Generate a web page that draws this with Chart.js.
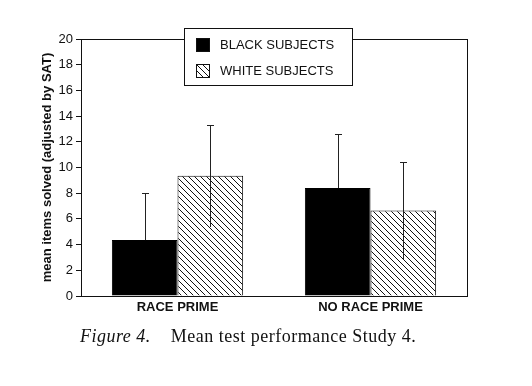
<!DOCTYPE html>
<html>
<head>
<meta charset="utf-8">
<script src="https://cdn.jsdelivr.net/npm/chart.js@4.4.0/dist/chart.umd.min.js"></script>
<style>
  body { margin: 0; background: #fff; }
  #wrap { position: relative; width: 532px; height: 386px; }
  #caption {
    position: absolute; left: 80px; top: 326px;
    font-family: "Liberation Serif", "DejaVu Serif", serif;
    font-size: 18px; letter-spacing: 0.5px; color: #111; white-space: nowrap;
  }
  #caption i { margin-right: 20px; }
</style>
</head>
<body>
<div id="wrap">
  <canvas id="chart" width="532" height="386"></canvas>
  <div id="caption"><i>Figure 4.</i>Mean test performance Study 4.</div>
</div>
<script>
// values
var categories = ['RACE PRIME', 'NO RACE PRIME'];
var blackMeans = [4.35, 8.4];
var whiteMeans = [9.35, 6.65];
var blackErr = [3.7, 4.2];
var whiteErr = [3.95, 3.8];
var yTicks = [0, 2, 4, 6, 8, 10, 12, 14, 16, 18, 20];

var sansFont = '"Liberation Sans", Arial, Helvetica, sans-serif';

// diagonal hatch for the white subjects bars
function makeHatch(){
    var s = 6;
    var c = document.createElement('canvas');
    c.width = s; c.height = s;
    var g = c.getContext('2d');
    g.fillStyle = '#fff';
    g.fillRect(0, 0, s, s);
    g.strokeStyle = '#111';
    g.lineWidth = 1;
    g.beginPath();
    g.moveTo(-1, -1); g.lineTo(s + 1, s + 1);
    g.moveTo(-1, s - 1); g.lineTo(1, s + 1);
    g.moveTo(s - 1, -1); g.lineTo(s + 1, 1);
    g.stroke();
    return g.createPattern(c, 'repeat');
}
var hatch = makeHatch();

// frame, error bars and legend box
var extras = {
    id: 'extras',
    afterDatasetsDraw: function(chart){
        var ctx = chart.ctx;
        var a = chart.chartArea;
        var y = chart.scales.y;
        var errs = [blackErr, whiteErr];
        ctx.save();
        ctx.strokeStyle = '#222';
        ctx.lineWidth = 1;
        chart.data.datasets.forEach(function(ds, di){
            var meta = chart.getDatasetMeta(di);
            meta.data.forEach(function(bar, i){
                var x = Math.round(bar.x) + 0.5;
                var v = ds.data[i];
                var top = Math.round(y.getPixelForValue(v + errs[di][i])) + 0.5;
                // the lower half is hidden inside the solid black bars
                var bot = di === 0 ? bar.y : Math.round(y.getPixelForValue(v - errs[di][i]));
                ctx.beginPath();
                ctx.moveTo(x, bot);
                ctx.lineTo(x, top);
                ctx.moveTo(x - 3.5, top);
                ctx.lineTo(x + 3.5, top);
                ctx.stroke();
            });
        });
        // box round the plot
        ctx.strokeStyle = '#111';
        ctx.strokeRect(Math.round(a.left) + 0.5, Math.round(a.top) + 0.5,
                       Math.round(a.right - a.left), Math.round(a.bottom - a.top));
        // legend
        var lx = 184, ly = 28, lw = 168, lh = 57;
        ctx.fillStyle = '#fff';
        ctx.fillRect(lx, ly, lw, lh);
        ctx.strokeRect(lx + 0.5, ly + 0.5, lw, lh);
        ctx.font = '13px ' + sansFont;
        ctx.textBaseline = 'middle';
        chart.data.datasets.forEach(function(ds, di){
            var ry = ly + 10 + di * 26;
            ctx.fillStyle = ds.backgroundColor;
            ctx.fillRect(196, ry, 14, 14);
            ctx.strokeRect(196.5, ry + 0.5, 13, 13);
            ctx.fillStyle = '#111';
            ctx.fillText(ds.label, 220, ry + 7);
        });
        ctx.restore();
    }
};

new Chart(document.getElementById('chart'), {
    type: 'bar',
    data: {
        labels: categories,
        datasets: [
            {
                label: 'BLACK SUBJECTS',
                data: blackMeans,
                backgroundColor: '#000',
                borderColor: '#000',
                borderWidth: 1,
                categoryPercentage: 0.68,
                barPercentage: 1
            },
            {
                label: 'WHITE SUBJECTS',
                data: whiteMeans,
                backgroundColor: hatch,
                borderColor: '#111',
                borderWidth: 1,
                categoryPercentage: 0.68,
                barPercentage: 1
            }
        ]
    },
    options: {
        responsive: false,
        animation: false,
        layout: { padding: { left: 36, top: 39, right: 65, bottom: 70 } },
        plugins: {
            legend: { display: false },
            tooltip: { enabled: false }
        },
        scales: {
            x: {
                afterFit: function(s){ s.height = 20; },
                grid: { display: false, drawTicks: false },
                border: { display: true, color: '#111' },
                ticks: {
                    padding: 4,
                    color: '#111',
                    font: { family: sansFont, size: 13, weight: 'bold' }
                }
            },
            y: {
                min: 0,
                max: 20,
                afterFit: function(s){ s.width = 45; },
                afterBuildTicks: function(s){
                    s.ticks = yTicks.map(function(v){ return { value: v }; });
                },
                grid: { drawOnChartArea: false, drawTicks: true, tickLength: 5, color: '#111' },
                border: { display: true, color: '#111' },
                ticks: {
                    padding: 3,
                    color: '#111',
                    font: { family: sansFont, size: 13 }
                },
                title: {
                    display: true,
                    text: 'mean items solved (adjusted by SAT)',
                    color: '#111',
                    font: { family: sansFont, size: 13, weight: 'bold' }
                }
            }
        }
    },
    plugins: [extras]
});
</script>
</body>
</html>
